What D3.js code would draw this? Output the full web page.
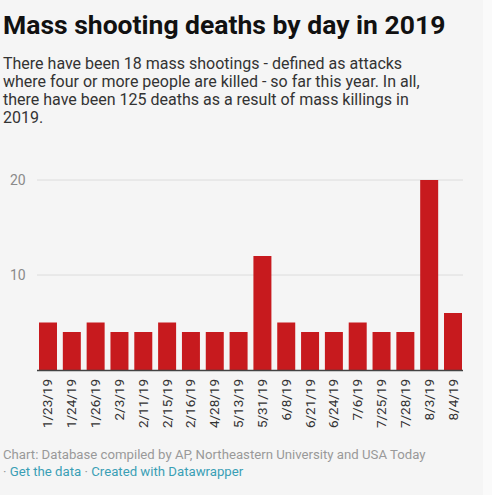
<!DOCTYPE html>
<html>
<head>
<meta charset="utf-8">
<script src="https://cdn.jsdelivr.net/npm/d3@7"></script>
<style>
  body { margin: 0; background: #fff; }
  svg { display: block; font-family: Roboto, "Noto Sans", sans-serif; }
</style>
</head>
<body>
<div id="chart"></div>
<script>
// datos
var dates = ["1/23/19","1/24/19","1/26/19","2/3/19","2/11/19","2/15/19","2/16/19","4/28/19","5/13/19",
  "5/31/19","6/8/19","6/21/19","6/24/19","7/6/19","7/25/19","7/28/19","8/3/19","8/4/19"];
var deaths = [5,4,5,4,4,5,4,4,4,12,5,4,4,5,4,4,20,6];
var yTicks = [10, 20];

var subtitle = [
  "There have been 18 mass shootings - defined as attacks",
  "where four or more people are killed - so far this year. In all,",
  "there have been 125 deaths as a result of mass killings in",
  "2019."
];

var W = 492, H = 495;
var margin = {top: 180, right: 29, bottom: 125, left: 37},
  width = W - margin.left - margin.right,
  height = H - margin.top - margin.bottom;

var svg = d3.select("#chart").append("svg")
  .attr("width", W)
  .attr("height", H);

// fondo
svg.append("rect").attr("width", 483).attr("height", H).attr("fill", "#f5f5f5");
svg.append("rect").attr("x", 483).attr("width", W - 483).attr("height", H).attr("fill", "#fafafa");

// titulo y subtitulo
svg.append("text")
  .attr("x", 3).attr("y", 34)
  .attr("font-size", 26.5).attr("font-weight", 700).attr("fill", "#111")
  .text("Mass shooting deaths by day in 2019");

svg.append("g").selectAll("text")
  .data(subtitle)
  .enter().append("text")
  .attr("x", 3)
  .attr("y", function(d, i) { return 69 + i * 17.9; })
  .attr("font-size", 16).attr("fill", "#333")
  .text(function(d) { return d; });

var g = svg.append("g")
  .attr("transform", "translate(" + margin.left + "," + margin.top + ")");

// escalas
var x = d3.scaleBand()
  .domain(dates)
  .range([2, width - 1])
  .paddingInner(0.245)
  .paddingOuter(0);

var y = d3.scaleLinear()
  .domain([0, 20])
  .range([height, 0]);

// lineas de cuadricula
g.selectAll(".grid")
  .data(yTicks)
  .enter().append("line")
  .attr("x1", 0).attr("x2", width)
  .attr("y1", function(d) { return y(d); })
  .attr("y2", function(d) { return y(d); })
  .attr("stroke", "#dcdcdc").attr("stroke-width", 1);

g.selectAll(".ylab")
  .data(yTicks)
  .enter().append("text")
  .attr("x", -27)
  .attr("y", function(d) { return y(d) + 5; })
  .attr("font-size", 14).attr("fill", "#8a8a8a")
  .text(function(d) { return d; });

// barras
g.selectAll(".bar")
  .data(deaths)
  .enter().append("rect")
  .attr("x", function(d, i) { return x(dates[i]); })
  .attr("y", function(d) { return y(d); })
  .attr("width", x.bandwidth())
  .attr("height", function(d) { return height - y(d); })
  .attr("fill", "#c71a1e");

// eje x
var xAxis = g.append("g")
  .attr("transform", "translate(0," + height + ")")
  .call(d3.axisBottom(x).tickSize(0).tickPadding(0));
xAxis.select(".domain").attr("stroke", "#444").attr("stroke-width", 1.5)
  .attr("d", "M0,0.5H" + width);
xAxis.selectAll("text")
  .attr("transform", "translate(4.5,9)rotate(-90)")
  .attr("dy", 0).attr("x", 0).attr("y", 0)
  .style("text-anchor", "end")
  .attr("font-size", 13.5).attr("fill", "#333")
  .attr("font-family", "Roboto, sans-serif");

// pie
svg.append("text")
  .attr("x", 3).attr("y", 459)
  .attr("font-size", 13.2).attr("fill", "#999")
  .text("Chart: Database compiled by AP, Northeastern University and USA Today");

var foot = svg.append("text")
  .attr("x", 3).attr("y", 476)
  .attr("font-size", 13.2).attr("fill", "#999");
foot.append("tspan").text("\u00b7 ");
foot.append("tspan").attr("fill", "#3a9fb5").text("Get the data");
foot.append("tspan").text(" \u00b7 ");
foot.append("tspan").attr("fill", "#3a9fb5").text("Created with Datawrapper");
</script>
</body>
</html>
